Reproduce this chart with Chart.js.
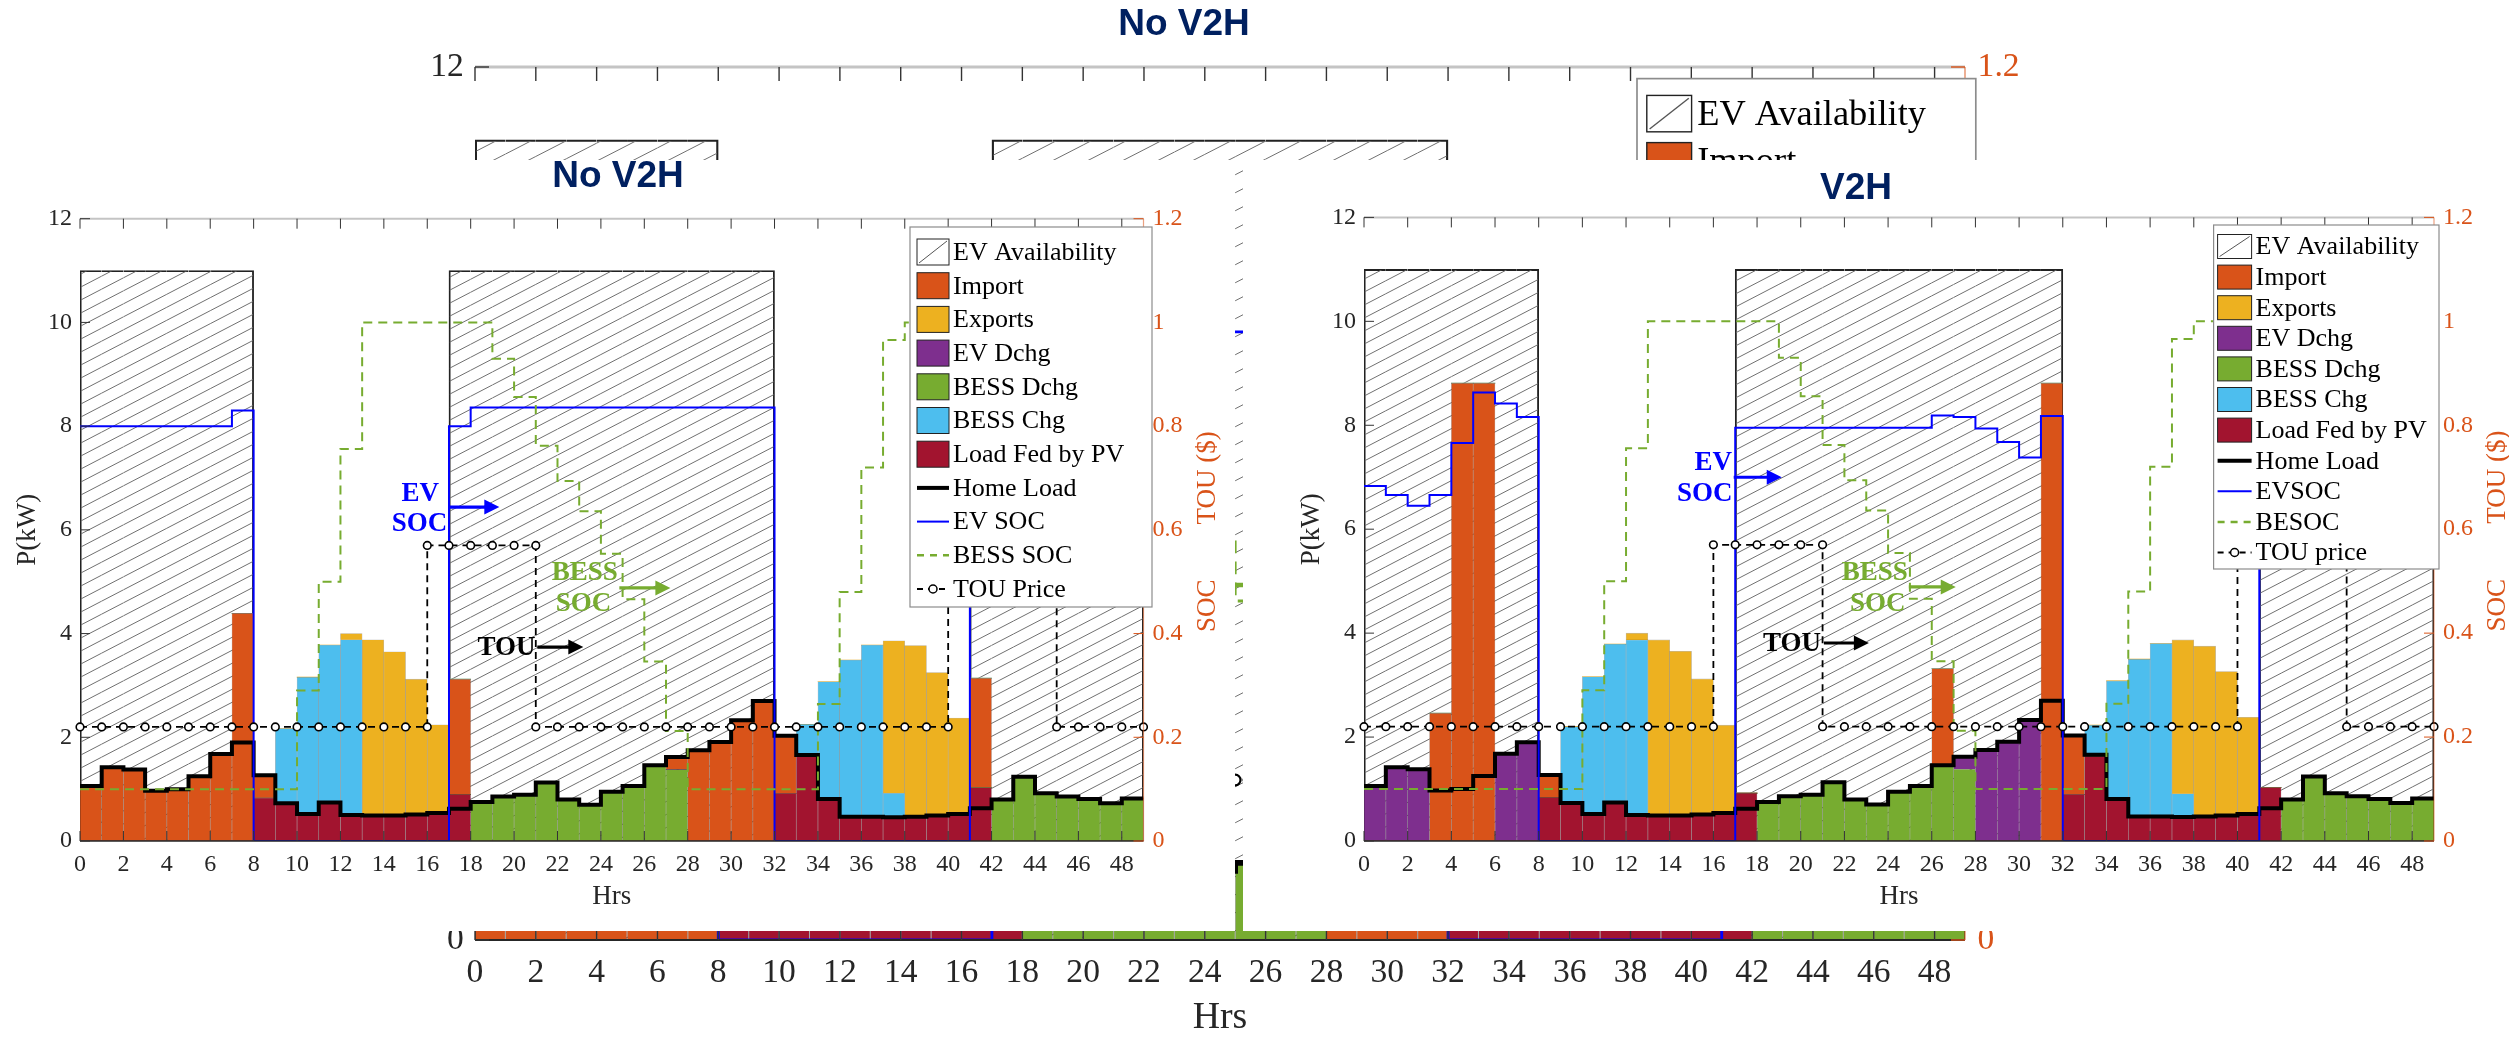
<!DOCTYPE html>
<html>
<head>
<meta charset="utf-8">
<script src="https://cdn.jsdelivr.net/npm/chart.js@4.4.1/dist/chart.umd.min.js"></script>
<style>
  body { margin: 0; background: #fff; }
  #wrap { position: relative; width: 2509px; height: 1038px; overflow: hidden; background: #fff; }
  canvas { position: absolute; background: #fff; }
</style>
</head>
<body>
<div id="wrap">
  <canvas id="bg" width="2509" height="1038" style="left:0;top:0"></canvas>
  <canvas id="left" width="1235" height="771" style="left:0;top:160px"></canvas>
  <canvas id="right" width="1266" height="771" style="left:1243px;top:160px"></canvas>
</div>
<script>
// hours of the two days, one bar per hour
const hours = [0,1,2,3,4,5,6,7,8,9,10,11,12,13,14,15,16,17,18,19,20,21,22,23,24,25,26,27,28,29,30,31,32,33,34,35,36,37,38,39,40,41,42,43,44,45,46,47,48];
const xTickVals = [0,2,4,6,8,10,12,14,16,18,20,22,24,26,28,30,32,34,36,38,40,42,44,46,48];
const kwTickVals = [0,2,4,6,8,10,12];
const socTickVals = [0,0.2,0.4,0.6,0.8,1,1.2];

// shared by both cases (kW)
const homeLoad = [1.06,1.42,1.38,0.97,1.00,1.25,1.68,1.90,1.27,0.73,0.52,0.74,0.50,0.49,0.49,0.51,0.54,0.62,0.75,0.86,0.89,1.13,0.80,0.70,0.95,1.06,1.46,1.62,1.75,1.91,2.33,2.70,2.03,1.66,0.81,0.47,0.47,0.46,0.47,0.49,0.52,0.63,0.80,1.24,0.92,0.86,0.81,0.73,0.82];
const evAvail = [11,11,11,11,11,11,11,11,0,0,0,0,0,0,0,0,0,11,11,11,11,11,11,11,11,11,11,11,11,11,11,11,0,0,0,0,0,0,0,0,0,11,11,11,11,11,11,11,11];
const bessSoc = [0.10,0.10,0.10,0.10,0.10,0.10,0.10,0.10,0.10,0.10,0.29,0.50,0.756,1,1,1,1,1,1,0.93,0.856,0.762,0.694,0.636,0.554,0.466,0.346,0.212,0.10,0.10,0.10,0.10,0.10,0.10,0.264,0.48,0.72,0.966,1,1,1,0.95,0.90,0.83,0.77,0.71,0.66,0.61,0.57];
// TOU price ($) for hours 0..49
const touPrice = [0.22,0.22,0.22,0.22,0.22,0.22,0.22,0.22,0.22,0.22,0.22,0.22,0.22,0.22,0.22,0.22,0.57,0.57,0.57,0.57,0.57,0.22,0.22,0.22,0.22,0.22,0.22,0.22,0.22,0.22,0.22,0.22,0.22,0.22,0.22,0.22,0.22,0.22,0.22,0.22,0.57,0.57,0.57,0.57,0.57,0.22,0.22,0.22,0.22,0.22];

// No V2H (kW)
const pvA = [0,0,0,0,0,0,0,0,0.83,0.73,0.52,0.74,0.50,0.49,0.49,0.51,0.54,0.90,0,0,0,0,0,0,0,0,0,0,0,0,0,0,0.92,1.64,0.81,0.47,0.47,0.46,0.47,0.49,0.52,1.03,0,0,0,0,0,0,0];
const bessDchgA = [0,0,0,0,0,0,0,0,0,0,0,0,0,0,0,0,0,0,0.75,0.86,0.89,1.13,0.80,0.70,0.95,1.06,1.46,1.38,0,0,0,0,0,0,0,0,0,0,0,0,0,0,0.80,1.24,0.92,0.86,0.81,0.73,0.82];
const evDchgA = [0,0,0,0,0,0,0,0,0,0,0,0,0,0,0,0,0,0,0,0,0,0,0,0,0,0,0,0,0,0,0,0,0,0,0,0,0,0,0,0,0,0,0,0,0,0,0,0,0];
const importA = [1.06,1.42,1.38,0.97,1.00,1.25,1.68,4.39,0.44,0,0,0,0,0,0,0,0,2.22,0,0,0,0,0,0,0,0,0,0.24,1.75,1.91,2.33,2.70,1.11,0,0,0,0,0,0,0,0,2.11,0,0,0,0,0,0,0];
const bessChgA = [0,0,0,0,0,0,0,0,0,1.44,2.64,3.04,3.38,0,0,0,0,0,0,0,0,0,0,0,0,0,0,0,0,0,0,0,0,0.61,2.26,3.02,3.31,0.46,0,0,0,0,0,0,0,0,0,0,0];
const exportA = [0,0,0,0,0,0,0,0,0,0,0,0,0.12,3.39,3.16,2.61,1.70,0,0,0,0,0,0,0,0,0,0,0,0,0,0,0,0,0,0,0,0,2.94,3.30,2.76,1.85,0,0,0,0,0,0,0,0];
const evSocA = [0.80,0.80,0.80,0.80,0.80,0.80,0.80,0.83,0,0,0,0,0,0,0,0,0,0.80,0.836,0.836,0.836,0.836,0.836,0.836,0.836,0.836,0.836,0.836,0.836,0.836,0.836,0.836,0,0,0,0,0,0,0,0,0,0.80,0.80,0.80,0.80,0.80,0.80,0.80,0.80];

// V2H (kW)
const pvB = [0,0,0,0,0,0,0,0,0.84,0.72,0.52,0.74,0.50,0.49,0.49,0.51,0.54,0.92,0,0,0,0,0,0,0,0,0,0,0,0,0,0,0.90,1.63,0.81,0.47,0.47,0.46,0.47,0.49,0.52,1.03,0,0,0,0,0,0,0];
const bessDchgB = [0,0,0,0,0,0,0,0,0,0,0,0,0,0,0,0,0,0,0.75,0.86,0.89,1.13,0.80,0.70,0.95,1.06,1.43,1.38,0,0,0,0,0,0,0,0,0,0,0,0,0,0,0.80,1.24,0.92,0.86,0.81,0.73,0.82];
const evDchgB = [1.06,1.42,1.38,0,0,0,1.68,1.90,0,0,0,0,0,0,0,0,0,0,0,0,0,0,0,0,0,0,0,0.24,1.75,1.91,2.33,0,0,0,0,0,0,0,0,0,0,0,0,0,0,0,0,0,0];
const importB = [0,0,0,2.46,8.81,8.81,0,0,0.42,0,0,0,0,0,0,0,0,0,0,0,0,0,0,0,0,0,1.89,0,0,0,0,8.81,1.13,0,0,0,0,0,0,0,0,0,0,0,0,0,0,0,0];
const bessChgB = [0,0,0,0,0,0,0,0,0,1.48,2.64,3.05,3.37,0,0,0,0,0,0,0,0,0,0,0,0,0,0,0,0,0,0,0,0,0.60,2.27,3.03,3.33,0.45,0,0,0,0,0,0,0,0,0,0,0];
const exportB = [0,0,0,0,0,0,0,0,0,0,0,0,0.13,3.38,3.16,2.61,1.69,0,0,0,0,0,0,0,0,0,0,0,0,0,0,0,0,0,0,0,0,2.96,3.28,2.77,1.86,0,0,0,0,0,0,0,0];
const evSocB = [0.683,0.666,0.645,0.666,0.766,0.863,0.842,0.816,0,0,0,0,0,0,0,0,0,0.795,0.795,0.795,0.795,0.795,0.795,0.795,0.795,0.795,0.819,0.816,0.794,0.768,0.738,0.818,0,0,0,0,0,0,0,0,0,0.80,0.80,0.80,0.80,0.80,0.80,0.80,0.80];

const legendA = ['EV Availability','Import','Exports','EV Dchg','BESS Dchg','BESS Chg','Load Fed by PV','Home Load','EV SOC','BESS SOC','TOU Price'];
const legendB = ['EV Availability','Import','Exports','EV Dchg','BESS Dchg','BESS Chg','Load Fed by PV','Home Load','EVSOC','BESOC','TOU price'];

const COL = { imp:'#D95319', exp:'#EDB120', evd:'#7E2F8E', bd:'#77AC30', bc:'#4DBEEE', pv:'#A2142F', soc:'#0000FF', orange:'#D95319', navy:'#002060' };
const serif = '"Liberation Serif", "Times New Roman", serif';
const legendKinds = [
  {k:'hatch'}, {k:'box', c:COL.imp}, {k:'box', c:COL.exp}, {k:'box', c:COL.evd}, {k:'box', c:COL.bd},
  {k:'box', c:COL.bc}, {k:'box', c:COL.pv}, {k:'line', c:'#000', w:4}, {k:'line', c:COL.soc, w:2},
  {k:'dash', c:COL.bd, w:2.5}, {k:'tou'}
];

function stairs(vals) {
  const pts = vals.map((v, i) => ({x: hours[i], y: v}));
  pts.push({x: hours[vals.length - 1] + 1, y: vals[vals.length - 1]});
  return pts;
}

function touPoints() {
  const pts = [];
  touPrice.forEach((p, h) => {
    if (h > 0 && p !== touPrice[h - 1]) pts.push({x: h, y: touPrice[h - 1]});
    pts.push({x: h, y: p});
  });
  return pts;
}

function hatch(s) {
  const w = Math.round(25 * s), h = Math.round(13 * s);
  const c = document.createElement('canvas');
  c.width = w; c.height = h;
  const g = c.getContext('2d');
  g.strokeStyle = '#707070';
  g.lineWidth = 1;
  g.beginPath();
  for (const dx of [-w, 0, w]) { g.moveTo(dx - w, 2 * h); g.lineTo(dx + 2 * w, -h); }
  g.stroke();
  return g.createPattern(c, 'repeat');
}

function line(g, x1, y1, x2, y2) { g.beginPath(); g.moveTo(x1, y1); g.lineTo(x2, y2); g.stroke(); }

function decorate(chart, o) {
  const g = chart.ctx, a = chart.chartArea, s = o.s;
  const X = chart.scales.x, Y = chart.scales.y, Y2 = chart.scales.y2;
  g.save();

  // annotations
  g.textAlign = 'center'; g.textBaseline = 'middle';
  g.font = `bold ${27 * s}px ${serif}`;
  o.notes.forEach(n => { g.fillStyle = n.c; g.fillText(n.t, X.getPixelForValue(n.x), Y.getPixelForValue(n.y)); });
  o.arrows.forEach(r => {
    const x1 = X.getPixelForValue(r.x1), x2 = X.getPixelForValue(r.x2), y = Y.getPixelForValue(r.y);
    g.strokeStyle = r.c; g.fillStyle = r.c; g.lineWidth = 3.2 * s;
    line(g, x1, y, x2 - 10 * s, y);
    g.beginPath(); g.moveTo(x2, y); g.lineTo(x2 - 15 * s, y - 7.5 * s); g.lineTo(x2 - 15 * s, y + 7.5 * s); g.closePath(); g.fill();
  });

  // axes box
  g.lineWidth = 2 * s; g.strokeStyle = '#c4c4c4';
  line(g, a.left, a.top, a.right, a.top);
  g.lineWidth = 1.5 * s; g.strokeStyle = '#262626';
  line(g, a.left, a.bottom, a.right, a.bottom);
  g.lineWidth = 1.2 * s; g.strokeStyle = 'rgba(217,83,25,0.55)';
  line(g, a.right, a.top, a.right, a.bottom);
  // inward ticks
  g.lineWidth = 1 * s; g.strokeStyle = '#333';
  xTickVals.forEach(v => {
    const p = X.getPixelForValue(v);
    line(g, p, a.bottom, p, a.bottom - 10 * s);
    line(g, p, a.top, p, a.top + 10 * s);
  });
  kwTickVals.forEach(v => { const p = Y.getPixelForValue(v); line(g, a.left, p, a.left + 10 * s, p); });
  g.strokeStyle = COL.orange;
  socTickVals.forEach(v => { const p = Y2.getPixelForValue(v); line(g, a.right, p, a.right - 10 * s, p); });

  // axis titles
  const midY = (a.top + a.bottom) / 2;
  g.font = `${27 * s}px ${serif}`; g.fillStyle = '#262626';
  g.fillText('Hrs', (a.left + a.right) / 2, a.bottom + 56 * s);
  g.save(); g.translate(a.left - 52 * s, midY); g.rotate(-Math.PI / 2); g.fillText('P(kW)', 0, 0); g.restore();
  g.fillStyle = COL.orange;
  g.save(); g.translate(a.right + 64 * s, midY); g.rotate(-Math.PI / 2);
  g.fillText('SOC', -76 * s, 0); g.fillText('TOU ($)', 52 * s, 0); g.restore();

  // legend
  const L = o.legend;
  const bx = a.left + L.x * s, by = a.top + L.y * s;
  g.fillStyle = '#fff'; g.fillRect(bx, by, L.w * s, L.h * s);
  g.strokeStyle = '#8c8c8c'; g.lineWidth = 1.2 * s; g.strokeRect(bx, by, L.w * s, L.h * s);
  o.labels.forEach((lab, i) => {
    const it = legendKinds[i];
    const cy = by + (L.first + i * L.step) * s;
    const sx = bx + L.sx * s, sw = L.sw * s, sh = L.sh * s;
    g.setLineDash([]);
    if (it.k === 'hatch' || it.k === 'box') {
      g.fillStyle = it.k === 'hatch' ? '#fff' : it.c;
      g.fillRect(sx, cy - sh / 2, sw, sh);
      g.strokeStyle = '#222'; g.lineWidth = 1 * s; g.strokeRect(sx, cy - sh / 2, sw, sh);
      if (it.k === 'hatch') { g.strokeStyle = '#555'; line(g, sx + 2 * s, cy + sh / 2 - 2 * s, sx + sw - 2 * s, cy - sh / 2 + 2 * s); }
    } else if (it.k === 'line') {
      g.strokeStyle = it.c; g.lineWidth = it.w * s; line(g, sx, cy, sx + sw, cy);
    } else if (it.k === 'dash') {
      g.strokeStyle = it.c; g.lineWidth = it.w * s; g.setLineDash([7 * s, 6 * s]); line(g, sx, cy, sx + sw, cy);
    } else {
      g.strokeStyle = '#000'; g.lineWidth = 2 * s; g.setLineDash([6 * s, 5 * s]); line(g, sx, cy, sx + sw, cy);
      g.setLineDash([]); g.fillStyle = '#fff'; g.lineWidth = 1.5 * s;
      g.beginPath(); g.arc(sx + sw / 2, cy, 4 * s, 0, Math.PI * 2); g.fill(); g.stroke();
    }
    g.setLineDash([]);
    g.fillStyle = '#000'; g.textAlign = 'left';
    g.font = `${26 * s}px ${serif}`;
    g.fillText(lab, bx + L.tx * s, cy + 1 * s);
  });

  // panel title
  g.textAlign = 'center';
  g.font = 'bold 37px "Liberation Sans", Arial, sans-serif';
  g.fillStyle = COL.navy;
  g.fillText(o.title.t, o.title.x, o.title.y);
  g.restore();
}

function makeChart(id, o) {
  const cv = document.getElementById(id);
  const W = cv.width, H = cv.height, s = o.s;
  const bw = 0.6 * s;
  const bar = (label, vals, color) => ({
    type: 'bar', label, data: vals.map((v, i) => ({x: hours[i] + 0.5, y: v})),
    backgroundColor: color, borderColor: 'rgba(0,0,0,0.28)',
    borderWidth: c => (c.raw && c.raw.y > 0 ? bw : 0),
    grouped: false, stack: 'p', order: 5, yAxisID: 'y',
    categoryPercentage: 1, barPercentage: 1
  });
  const hw = 1.2 * s;
  const datasets = [
    { type: 'bar', label: 'EV Availability', data: evAvail.map((v, i) => ({x: hours[i] + 0.5, y: v})),
      backgroundColor: hatch(s), borderColor: '#222',
      borderWidth: c => {
        const i = c.dataIndex;
        if (!evAvail[i]) return 0;
        return { top: hw, bottom: 0, left: (i === 0 || !evAvail[i - 1]) ? hw : 0, right: (i === evAvail.length - 1 || !evAvail[i + 1]) ? hw : 0 };
      },
      grouped: false, stack: 'ev', order: 9, yAxisID: 'y', categoryPercentage: 1, barPercentage: 1 },
    bar('Load Fed by PV', o.pv, COL.pv),
    bar('BESS Dchg', o.bessDchg, COL.bd),
    bar('EV Dchg', o.evDchg, COL.evd),
    bar('Import', o.imp, COL.imp),
    bar('BESS Chg', o.bessChg, COL.bc),
    bar('Exports', o.exp, COL.exp),
    { type: 'line', label: 'Home Load', data: stairs(homeLoad), stepped: true, borderColor: '#000',
      borderWidth: 4 * s, pointRadius: 0, yAxisID: 'y', stack: 'load', order: 4 },
    { type: 'line', label: 'EV SOC', data: stairs(o.evSoc), stepped: true, borderColor: COL.soc,
      borderWidth: 2 * s, pointRadius: 0, yAxisID: 'y2', order: 3 },
    { type: 'line', label: 'BESS SOC', data: stairs(bessSoc), stepped: true, borderColor: COL.bd,
      borderWidth: 2 * s, borderDash: [9 * s, 6 * s], pointRadius: 0, yAxisID: 'y2', order: 2 },
    { type: 'line', label: 'TOU Price', data: touPoints(), borderColor: '#000', borderWidth: 1.8 * s,
      borderDash: [7 * s, 5 * s], pointRadius: 3.8 * s, pointBackgroundColor: '#fff', pointBorderColor: '#000',
      pointBorderWidth: 1.6 * s, yAxisID: 'y2', order: 1, clip: 12 * s }
  ];
  const tickFont = { family: serif, size: 24 * s };
  return new Chart(cv, {
    type: 'bar',
    data: { datasets },
    options: {
      responsive: false, animation: false, devicePixelRatio: 1, events: [],
      layout: { padding: { top: o.plot.top, left: 0, right: 0, bottom: 0 } },
      plugins: { legend: { display: false }, title: { display: false }, tooltip: { enabled: false } },
      scales: {
        x: { type: 'linear', min: 0, max: 49, offset: false,
             grid: { display: false, drawTicks: false, offset: false }, border: { display: false },
             afterBuildTicks: sc => { sc.ticks = xTickVals.map(v => ({value: v})); },
             afterFit: sc => { sc.height = H - o.plot.bottom; },
             ticks: { autoSkip: false, maxRotation: 0, padding: 9 * s, color: '#262626', font: tickFont, callback: v => String(v) } },
        y: { type: 'linear', position: 'left', min: 0, max: 12, stacked: true,
             grid: { display: false, drawTicks: false }, border: { display: false },
             afterBuildTicks: sc => { sc.ticks = kwTickVals.map(v => ({value: v})); },
             afterFit: sc => { sc.width = o.plot.left; },
             ticks: { padding: 8 * s, color: '#262626', font: tickFont, callback: v => String(v) } },
        y2: { type: 'linear', position: 'right', min: 0, max: 1.2, stacked: false,
             grid: { display: false, drawTicks: false }, border: { display: false },
             afterBuildTicks: sc => { sc.ticks = socTickVals.map(v => ({value: v})); },
             afterFit: sc => { sc.width = W - o.plot.right; },
             ticks: { padding: 9 * s, color: COL.orange, font: tickFont, callback: v => String(v) } }
      }
    },
    plugins: [{ id: 'deco', afterDraw: c => decorate(c, o) }]
  });
}

const notesA = [
  {t:'EV', x:15.68, y:6.70, c:COL.soc}, {t:'SOC', x:15.64, y:6.12, c:COL.soc},
  {t:'BESS', x:23.26, y:5.16, c:COL.bd}, {t:'SOC', x:23.2, y:4.56, c:COL.bd},
  {t:'TOU', x:19.65, y:3.72, c:'#000'}
];
const arrowsA = [
  {x1:17.02, x2:19.32, y:6.44, c:COL.soc}, {x1:24.85, x2:27.2, y:4.88, c:COL.bd}, {x1:21.07, x2:23.19, y:3.74, c:'#000'}
];
const notesB = [
  {t:'EV', x:15.99, y:7.28, c:COL.soc}, {t:'SOC', x:15.6, y:6.68, c:COL.soc},
  {t:'BESS', x:23.39, y:5.15, c:COL.bd}, {t:'SOC', x:23.53, y:4.56, c:COL.bd},
  {t:'TOU', x:19.6, y:3.79, c:'#000'}
];
const arrowsB = [
  {x1:16.93, x2:19.13, y:7.0, c:COL.soc}, {x1:24.95, x2:27.1, y:4.89, c:COL.bd}, {x1:21.06, x2:23.12, y:3.81, c:'#000'}
];
const legBoxA = { x:830, y:8.3, w:242, h:380, first:25, step:33.7, sx:7, sw:32, sh:26, tx:43 };
const legBoxB = { x:849.6, y:7.6, w:225.4, h:344, first:21.5, step:30.6, sx:4, sw:34, sh:24, tx:42 };

const caseA = { pv: pvA, bessDchg: bessDchgA, evDchg: evDchgA, imp: importA, bessChg: bessChgA, exp: exportA, evSoc: evSocA,
                labels: legendA, notes: notesA, arrows: arrowsA, legend: legBoxA };
const caseB = { pv: pvB, bessDchg: bessDchgB, evDchg: evDchgB, imp: importB, bessChg: bessChgB, exp: exportB, evSoc: evSocB,
                labels: legendB, notes: notesB, arrows: arrowsB, legend: legBoxB };

// background copy of the No V2H figure, enlarged
makeChart('bg', Object.assign({}, caseA, { s: 1.4, plot: { left: 475, right: 1965, top: 67, bottom: 940 },
  title: { t: 'No V2H', x: 1184, y: 25 } }));
makeChart('left', Object.assign({}, caseA, { s: 1, plot: { left: 80, right: 1143.5, top: 58.7, bottom: 681 },
  title: { t: 'No V2H', x: 618, y: 17 } }));
makeChart('right', Object.assign({}, caseB, { s: 1, plot: { left: 121, right: 1191, top: 57.4, bottom: 681 },
  title: { t: 'V2H', x: 613, y: 29 } }));
</script>
</body>
</html>
